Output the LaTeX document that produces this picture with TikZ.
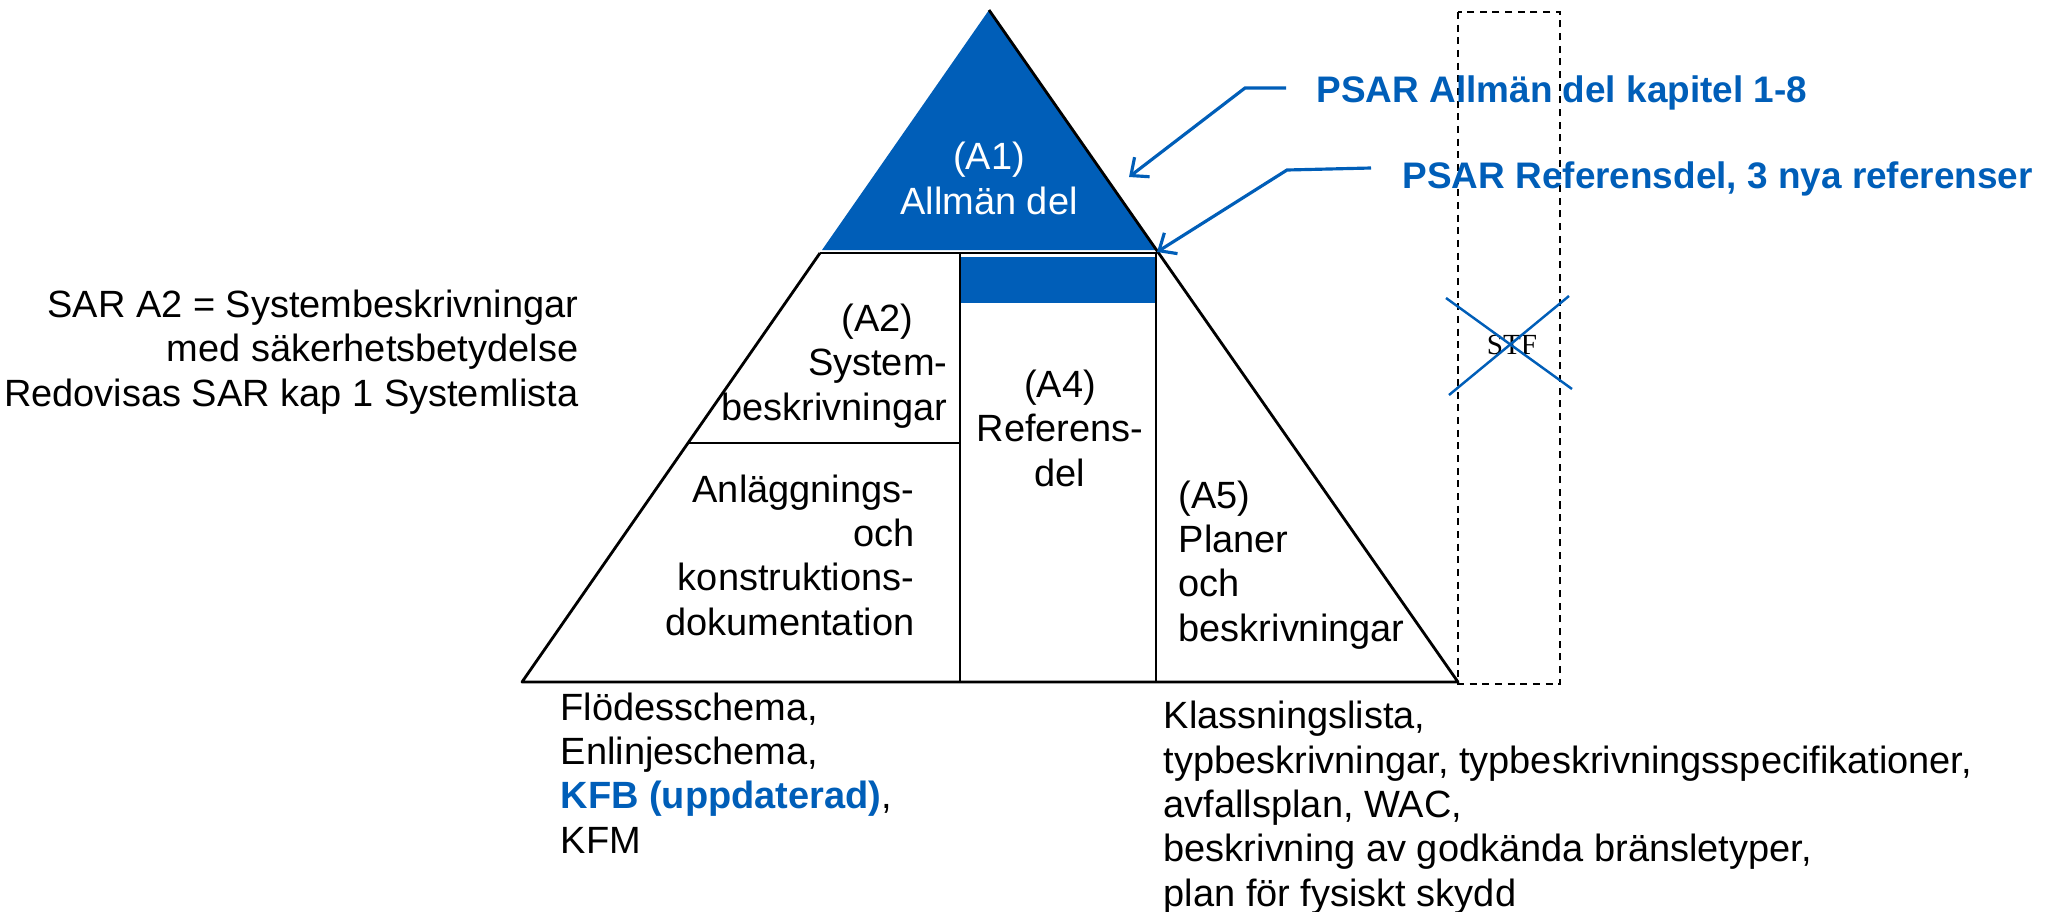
\documentclass[tikz,border=0pt]{standalone}
\usepackage{fontspec}
\setmainfont{Liberation Sans}
\newfontfamily\stffont{Liberation Serif}
\usetikzlibrary{arrows.meta,positioning}
\definecolor{vblue}{HTML}{005EB8}
\tikzset{
  edge/.style={draw=black, line width=0.8pt, line join=round},
  call/.style={draw=vblue, line width=0.9pt, -{Straight Barb[length=4pt,width=7pt]}},
  cross/.style={draw=vblue, line width=0.7pt},
  frame/.style={draw=black, line width=0.6pt, dash pattern=on 2pt off 1.6pt},
  txt/.style={font=\fontsize{10.8}{12.6}\selectfont, inner sep=0pt},
  head/.style={txt, text=vblue, font=\fontsize{10.5}{12.6}\selectfont\bfseries},
  stf/.style={font=\stffont\fontsize{8.3}{9}\selectfont, inner sep=0pt},
}

\begin{document}
\begin{tikzpicture}[x=0.01cm, y=-0.01cm]
\useasboundingbox (0,0) rectangle (2063,912);

% pyramid
\coordinate (top) at (989,10);
\coordinate (bl) at (522,682);
\coordinate (br) at (1458,682);
\coordinate (cl) at (820,253);
\coordinate (cr) at (1157,253);
\fill[vblue] (top) -- (822,250) -- (1156,250) -- cycle;
\fill[vblue] (960,257) rectangle (1156,303);
\draw[edge] (cl) -- (bl) -- (br) -- (top);
\draw[edge] (cl) -- (cr);
\draw[edge] (960,253) -- (960,682);
\draw[edge] (1156,253) -- (1156,682);
\draw[edge] (688,443) -- (960,443);

% STF column
\draw[frame] (1458,12) rectangle (1560,684);
\node[stf] (stf) at (1512,345) {STF};
\coordinate (x1) at (1446,298);
\coordinate (x2) at (1572,389);
\coordinate (x3) at (1449,395);
\coordinate (x4) at (1569,296);
\draw[cross] (x1) -- (x2);
\draw[cross] (x3) -- (x4);

% labels inside (base = last line)
\node[txt, text=white, align=center, anchor=base] (a1) at (989,214) {(A1)\\Allmän del};
\node[txt, align=right, anchor=base east] (a2) at (948,420) {(A2)\rule{0.9em}{0pt}\\System-\\beskrivningar};
\node[txt, align=right, anchor=base east] (a3) at (915,635) {Anläggnings-\\och\\konstruktions-\\dokumentation};
\node[txt, align=center, anchor=base] (a4) at (1060,486) {(A4)\\Referens-\\del};
\node[txt, align=left, anchor=base west] (a5) at (1178,641) {(A5)\\Planer\\och\\beskrivningar};

% notes round the pyramid
\node[txt, align=right, anchor=base east] (sar) at (579,406) {SAR A2 = Systembeskrivningar\\med säkerhetsbetydelse\\Redovisas SAR kap 1 Systemlista};
\node[txt, align=left, anchor=base west] (flow) at (560,853) {Flödesschema,\\Enlinjeschema,\\\textcolor{vblue}{\bfseries KFB (uppdaterad)},\\KFM};
\node[txt, align=left, anchor=base west] (klass) at (1163,906) {Klassningslista,\\typbeskrivningar, typbeskrivningsspecifikationer,\\avfallsplan, WAC,\\beskrivning av godkända bränsletyper,\\plan för fysiskt skydd};

% PSAR callouts
\node[head, anchor=base west] (ps1) at (1316,103) {PSAR Allmän del kapitel 1-8};
\node[head, anchor=base west] (ps2) at (1402,188) {PSAR Referensdel, 3 nya referenser};
\coordinate (s1) at (1286,88);
\coordinate (k1) at (1245,88);
\coordinate (t1) at (1129,177);
\coordinate (s2) at (1371,168);
\coordinate (k2) at (1287,170);
\coordinate (t2) at (1157,252);
\draw[call] (s1) -- (k1) -- (t1);
\draw[call] (s2) -- (k2) -- (t2);
\end{tikzpicture}
\end{document}
